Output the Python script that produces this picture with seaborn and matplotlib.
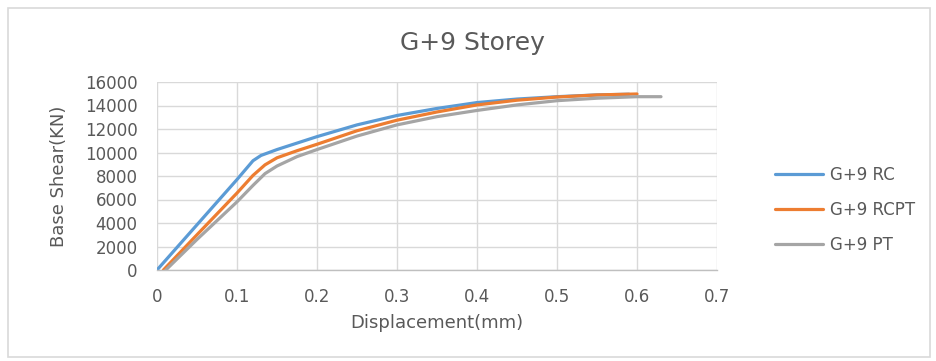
import matplotlib
matplotlib.use("Agg")
import matplotlib.pyplot as plt
import seaborn as sns
import pandas as pd
from matplotlib.patches import Rectangle
from matplotlib.lines import Line2D

# Data
rc_x = [0.0, 0.05, 0.1, 0.12, 0.13, 0.15, 0.175, 0.2, 0.25, 0.3, 0.35, 0.4, 0.45, 0.5, 0.55, 0.59]
rc_y = [0, 3850, 7700, 9300, 9750, 10250, 10800, 11350, 12350, 13150, 13750, 14250, 14550, 14750, 14900, 14960]

rcpt_x = [0.008, 0.05, 0.1, 0.12, 0.135, 0.15, 0.175, 0.2, 0.25, 0.3, 0.35, 0.4, 0.45, 0.5, 0.55, 0.6]
rcpt_y = [0, 3000, 6550, 8050, 8950, 9550, 10150, 10700, 11850, 12750, 13450, 14050, 14450, 14720, 14900, 14980]

pt_x = [0.011, 0.05, 0.1, 0.12, 0.135, 0.15, 0.175, 0.2, 0.25, 0.3, 0.35, 0.4, 0.45, 0.5, 0.55, 0.6, 0.63]
pt_y = [0, 2600, 5800, 7200, 8200, 8850, 9650, 10250, 11400, 12350, 13050, 13580, 14050, 14410, 14620, 14750, 14750]

series_names = ["G+9 RC", "G+9 RCPT", "G+9 PT"]
colors = ["#5B9BD5", "#ED7D31", "#A5A5A5"]

df = pd.concat([
    pd.DataFrame({"x": rc_x, "y": rc_y, "s": series_names[0]}),
    pd.DataFrame({"x": rcpt_x, "y": rcpt_y, "s": series_names[1]}),
    pd.DataFrame({"x": pt_x, "y": pt_y, "s": series_names[2]}),
], ignore_index=True)

x_ticks = [0, 0.1, 0.2, 0.3, 0.4, 0.5, 0.6, 0.7]
x_ticklabels = ["0", "0.1", "0.2", "0.3", "0.4", "0.5", "0.6", "0.7"]
y_ticks = [0, 2000, 4000, 6000, 8000, 10000, 12000, 14000, 16000]

sns.set_theme(style="white")
plt.rcParams["font.family"] = ["DejaVu Sans"]
text_color = "#595959"

fig = plt.figure(figsize=(9.36, 3.61), dpi=100)
ax = fig.add_axes([157 / 936, 1 - 270 / 361, (717 - 157) / 936, (270 - 82) / 361])

sns.lineplot(data=df, x="x", y="y", hue="s", palette=colors, hue_order=series_names,
             sort=False, estimator=None, linewidth=2.3, ax=ax, legend=False)

ax.set_xlim(0, 0.7)
ax.set_ylim(0, 16000)
ax.set_xticks(x_ticks)
ax.set_xticklabels(x_ticklabels)
ax.set_yticks(y_ticks)
ax.set_yticklabels([str(v) for v in y_ticks])
ax.grid(True, color="#D9D9D9", linewidth=1.0)
ax.set_axisbelow(True)
for side in ["top", "right", "left"]:
    ax.spines[side].set_visible(False)
ax.spines["bottom"].set_color("#BFBFBF")
ax.spines["bottom"].set_linewidth(1.0)
ax.tick_params(axis="both", length=0, colors=text_color, labelsize=12)
ax.tick_params(axis="y", pad=14)
ax.tick_params(axis="x", pad=13)

ax.set_xlabel("Displacement(mm)", fontsize=13, color=text_color, labelpad=6)
ax.set_ylabel("Base Shear(KN)", fontsize=13, color=text_color, labelpad=12)

fig.text(0.505, 1 - 43 / 361, "G+9 Storey", ha="center", va="center",
         fontsize=18, color=text_color)

handles = [Line2D([0], [0], color=c, linewidth=2.3) for c in colors]
leg = fig.legend(handles, series_names, loc="center left",
                 bbox_to_anchor=(768 / 936, 1 - 210 / 361), frameon=False,
                 borderaxespad=0, fontsize=12, handlelength=2.9,
                 handletextpad=0.4, labelspacing=1.0)
for t in leg.get_texts():
    t.set_color(text_color)

fig.patches.append(Rectangle((8 / 936, 4 / 361), 922 / 936, 349 / 361,
                             transform=fig.transFigure, fill=False,
                             edgecolor="#D9D9D9", linewidth=1.2))

fig.savefig("out.png", dpi=100)
